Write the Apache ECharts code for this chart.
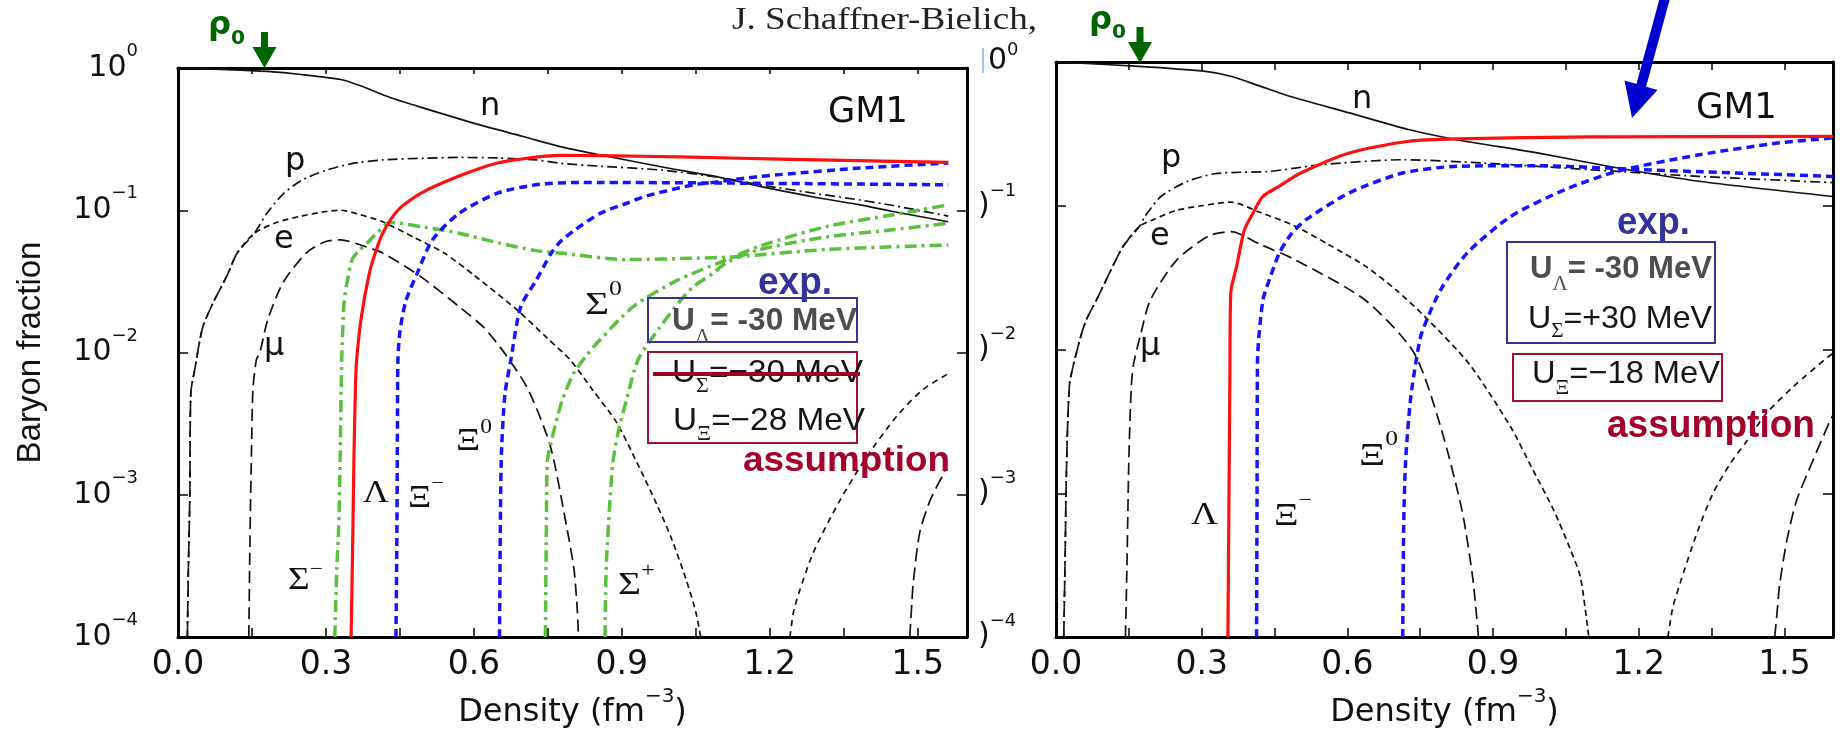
<!DOCTYPE html>
<html>
<head>
<meta charset="utf-8">
<script src="https://cdn.jsdelivr.net/npm/echarts/dist/echarts.min.js"></script>
<style>
html,body{margin:0;padding:0;background:#ffffff;overflow:hidden;}
#chart{width:1843px;height:729px;}
</style>
</head>
<body>
<div id="chart"></div>
<script>
// ---------------- axis data ----------------
const X_MIN = 0, X_MAX = 1.6, X_STEP = 0.15;
const X_TICK_LABELS = ['0.0', '0.3', '0.6', '0.9', '1.2', '1.5'];
const Y_TICK_EXP = [0, -1, -2, -3, -4];
const Y_MIN = 1e-4, Y_MAX = 1;

// ---------------- left panel (U_Sigma = -30 MeV) ----------------
const L_n = [[0,1.0],[0.1,0.975],[0.18,0.946],[0.25,0.9],[0.33,0.83],[0.37,0.75],[0.43,0.62],[0.5,0.52],[0.61,0.40],[0.7,0.33],[0.775,0.28],[0.856,0.245],[0.977,0.203],[1.1,0.17],[1.18,0.147],[1.3,0.122],[1.383,0.109],[1.45,0.098],[1.562,0.083]];
const L_p = [[0.019,1e-4],[0.021,3e-4],[0.024,0.001],[0.026,0.0052],[0.034,0.0076],[0.05,0.015],[0.073,0.023],[0.1,0.035],[0.12,0.05],[0.155,0.069],[0.18,0.095],[0.213,0.13],[0.25,0.162],[0.298,0.19],[0.35,0.212],[0.415,0.226],[0.5,0.232],[0.57,0.235],[0.65,0.233],[0.726,0.226],[0.775,0.214],[0.856,0.204],[0.977,0.192],[1.1,0.17],[1.18,0.151],[1.3,0.13],[1.383,0.118],[1.45,0.108],[1.562,0.091]];
const L_e = [[0.019,1e-4],[0.021,3e-4],[0.024,0.001],[0.026,0.0052],[0.034,0.0076],[0.05,0.015],[0.073,0.023],[0.1,0.035],[0.12,0.05],[0.155,0.069],[0.2,0.082],[0.25,0.091],[0.3,0.098],[0.33,0.1],[0.37,0.093],[0.415,0.083],[0.48,0.064],[0.54,0.05],[0.6,0.035],[0.687,0.02],[0.75,0.0125],[0.795,0.0089],[0.84,0.0055],[0.89,0.0032],[0.93,0.0017],[0.97,0.00087],[1.0,0.0005],[1.031,0.00025],[1.05,0.00015],[1.06,1e-4]];
const L_mu = [[0.1436,1e-4],[0.146,0.0005],[0.149,0.002],[0.152,0.0055],[0.159,0.0089],[0.166,0.01],[0.182,0.017],[0.213,0.031],[0.26,0.05],[0.298,0.06],[0.33,0.062],[0.37,0.057],[0.415,0.05],[0.493,0.034],[0.57,0.021],[0.62,0.015],[0.666,0.0095],[0.71,0.0055],[0.755,0.0022],[0.788,0.0006],[0.803,0.0003],[0.81,0.00015],[0.812,1e-4]];
const L_lepA = [[1.241,1e-4],[1.25,0.00016],[1.288,0.00039],[1.342,0.00091],[1.397,0.00186],[1.457,0.00355],[1.511,0.0055],[1.562,0.0071]];
const L_lepB = [[1.484,1e-4],[1.488,0.00017],[1.491,0.00024],[1.504,0.00054],[1.525,0.00091],[1.552,0.0014],[1.556,0.0015]];
const L_Lambda = [[0.351,1e-4],[0.354,0.0004],[0.357,0.002],[0.36,0.006],[0.363,0.0095],[0.372,0.018],[0.388,0.036],[0.4,0.05],[0.415,0.069],[0.446,0.1],[0.493,0.132],[0.57,0.174],[0.648,0.215],[0.726,0.236],[0.775,0.243],[0.856,0.242],[1.018,0.237],[1.22,0.229],[1.562,0.217]];
const L_XiM = [[0.442,1e-4],[0.444,0.0006],[0.445,0.003],[0.446,0.0089],[0.45,0.014],[0.462,0.023],[0.485,0.036],[0.516,0.062],[0.57,0.095],[0.648,0.132],[0.726,0.151],[0.815,0.157],[1.153,0.155],[1.562,0.151]];
const L_Xi0 = [[0.652,1e-4],[0.654,0.0008],[0.656,0.002],[0.663,0.0051],[0.675,0.0089],[0.695,0.021],[0.726,0.032],[0.757,0.05],[0.775,0.06],[0.803,0.072],[0.856,0.095],[0.91,0.112],[0.95,0.126],[1.045,0.151],[1.085,0.157],[1.18,0.173],[1.22,0.178],[1.383,0.198],[1.562,0.215]];
const L_SigM = [[0.318,1e-4],[0.322,0.0003],[0.326,0.0006],[0.329,0.002],[0.332,0.0089],[0.337,0.023],[0.345,0.034],[0.353,0.045],[0.367,0.052],[0.384,0.059],[0.405,0.07],[0.43,0.082],[0.5,0.076],[0.57,0.069],[0.65,0.059],[0.726,0.052],[0.775,0.05],[0.91,0.045],[1.045,0.046],[1.125,0.047],[1.316,0.053],[1.562,0.057]];
const L_Sig0 = [[0.745,1e-4],[0.747,0.0006],[0.749,0.0017],[0.756,0.0023],[0.771,0.0037],[0.78,0.0047],[0.802,0.0071],[0.83,0.0097],[0.856,0.0123],[0.923,0.021],[1.011,0.032],[1.113,0.045],[1.18,0.056],[1.316,0.077],[1.45,0.093],[1.562,0.109]];
const L_SigP = [[0.866,1e-4],[0.867,0.0002],[0.869,0.00035],[0.875,0.0008],[0.882,0.0017],[0.895,0.003],[0.91,0.0047],[0.933,0.0089],[0.977,0.015],[1.018,0.023],[1.045,0.029],[1.085,0.036],[1.113,0.043],[1.18,0.053],[1.316,0.065],[1.45,0.073],[1.562,0.081]];

// ---------------- right panel (U_Sigma = +30 MeV) ----------------
const R_n = [[0,1.0],[0.172,0.933],[0.304,0.863],[0.36,0.796],[0.42,0.68],[0.481,0.578],[0.604,0.443],[0.726,0.339],[0.825,0.288],[0.991,0.233],[1.157,0.183],[1.324,0.148],[1.6,0.116]];
const R_p = [[0.016,1e-4],[0.019,0.0004],[0.021,0.0012],[0.024,0.003],[0.028,0.0058],[0.035,0.0076],[0.05,0.012],[0.062,0.016],[0.083,0.022],[0.11,0.034],[0.138,0.052],[0.172,0.072],[0.183,0.084],[0.216,0.116],[0.271,0.148],[0.327,0.167],[0.382,0.171],[0.437,0.173],[0.548,0.193],[0.714,0.209],[0.881,0.198],[1.102,0.178],[1.324,0.16],[1.6,0.145]];
const R_e = [[0.016,1e-4],[0.019,0.0004],[0.021,0.0012],[0.024,0.003],[0.028,0.0058],[0.035,0.0076],[0.05,0.012],[0.062,0.016],[0.083,0.022],[0.11,0.034],[0.138,0.052],[0.172,0.072],[0.2,0.08],[0.248,0.093],[0.3,0.1],[0.36,0.106],[0.42,0.09],[0.493,0.072],[0.56,0.054],[0.637,0.038],[0.7,0.026],[0.759,0.017],[0.85,0.008],[0.936,0.0029],[0.98,0.0015],[1.025,0.00076],[1.06,0.0004],[1.08,0.00026],[1.097,1e-4]];
const R_mu = [[0.143,1e-4],[0.146,0.0003],[0.15,0.0017],[0.155,0.0055],[0.16,0.008],[0.175,0.013],[0.194,0.022],[0.249,0.042],[0.316,0.062],[0.36,0.066],[0.42,0.054],[0.493,0.042],[0.637,0.022],[0.737,0.0095],[0.792,0.0029],[0.836,0.00076],[0.858,0.00026],[0.87,1e-4]];
const R_lepA = [[1.26,1e-4],[1.27,0.00016],[1.284,0.00023],[1.319,0.00052],[1.353,0.001],[1.388,0.0016],[1.422,0.0023],[1.463,0.0036],[1.518,0.0055],[1.59,0.0089],[1.6,0.0094]];
const R_lepB = [[1.48,1e-4],[1.485,0.00015],[1.49,0.00023],[1.505,0.00047],[1.525,0.00089],[1.559,0.0017],[1.594,0.0032],[1.6,0.0035]];
const R_Lambda = [[0.354,1e-4],[0.356,0.0008],[0.358,0.006],[0.36,0.025],[0.372,0.038],[0.388,0.068],[0.405,0.088],[0.426,0.116],[0.46,0.137],[0.504,0.169],[0.604,0.233],[0.726,0.281],[0.825,0.292],[1.102,0.301],[1.6,0.304]];
const R_XiM = [[0.413,1e-4],[0.414,0.001],[0.415,0.0085],[0.426,0.022],[0.44,0.031],[0.46,0.047],[0.485,0.064],[0.515,0.08],[0.604,0.123],[0.714,0.169],[0.825,0.188],[0.991,0.19],[1.212,0.178],[1.6,0.16]];
const R_Xi0 = [[0.714,1e-4],[0.716,0.0006],[0.72,0.0017],[0.73,0.0045],[0.742,0.0085],[0.753,0.013],[0.792,0.026],[0.847,0.047],[0.936,0.084],[1.047,0.129],[1.157,0.174],[1.324,0.226],[1.49,0.274],[1.6,0.296]];

// ---------------- helpers ----------------
const DJ = '"DejaVu Sans"', LS = '"Liberation Sans"', SER = '"Liberation Serif"';
const mctx = document.createElement('canvas').getContext('2d');
function W(t, f) { mctx.font = f; return mctx.measureText(t).width; }
function seq(x, mid, parts, target) {
  let total = 0;
  parts.forEach(p => { p.w = W(p.t, p.f); total += p.w; });
  const sx = target ? target / total : 1;
  const out = []; let cx = x;
  parts.forEach(p => {
    out.push({ type: 'text', x: cx, y: (p.y !== undefined ? p.y : mid), scaleX: sx, z: 100, silent: true,
      style: { x: 0, y: 0, text: p.t, font: p.f, fill: p.c || '#111', align: 'left', verticalAlign: 'middle' } });
    cx += p.w * sx;
  });
  return out;
}
function fmtX(v) {
  for (const s of X_TICK_LABELS) { if (Math.abs(parseFloat(s) - v) < 1e-6) return s; }
  return '';
}
function fmtY(v) {
  const e = Math.round(Math.log10(v));
  if (!Y_TICK_EXP.includes(e)) return '';
  return '{b|10}{s|' + (e === 0 ? '0' : '\u2212' + (-e)) + '}';
}
function xAx(gi, pos, labels, tickLen) {
  return { type: 'value', gridIndex: gi, position: pos, min: X_MIN, max: X_MAX, interval: X_STEP,
    axisLine: { show: true, onZero: false, lineStyle: { color: '#000', width: 3 } },
    axisTick: { show: true, inside: true, length: tickLen, lineStyle: { color: '#000', width: 1.5 } },
    axisLabel: { show: labels, margin: 12, fontSize: 33, fontFamily: DJ, color: '#111', formatter: fmtX },
    splitLine: { show: false },
    name: labels ? '{a|Density (fm}{s|\u22123}{a|)}' : '', nameLocation: 'middle', nameGap: 48,
    nameTextStyle: { rich: {
      a: { fontSize: 32, fontFamily: DJ, color: '#111', lineHeight: 51 },
      s: { fontSize: 20, fontFamily: DJ, color: '#111', lineHeight: 20, verticalAlign: 'top' } } } };
}
function yAx(gi, pos, labels, withName) {
  return { type: 'log', logBase: 10, gridIndex: gi, position: pos, min: Y_MIN, max: Y_MAX,
    axisLine: { show: true, onZero: false, lineStyle: { color: '#000', width: 3 } },
    axisTick: { show: true, inside: true, length: 10, lineStyle: { color: '#000', width: 1.5 } },
    minorTick: { show: false }, splitLine: { show: false }, minorSplitLine: { show: false },
    axisLabel: { show: labels, margin: 40, formatter: fmtY, rich: {
      b: { fontSize: 30, fontFamily: DJ, color: '#111', lineHeight: 51 },
      s: { fontSize: 18, fontFamily: DJ, color: '#111', lineHeight: 18, verticalAlign: 'top' } } },
    name: withName ? 'Baryon fraction' : '', nameLocation: 'middle', nameGap: 131, nameRotate: 90,
    nameTextStyle: { fontSize: 33, fontFamily: LS, color: '#111' } };
}
function ln(data, xi, yi, color, width, dash, z) {
  return { type: 'line', xAxisIndex: xi, yAxisIndex: yi, data: data, symbol: 'none', showSymbol: false,
    smooth: 0.25, silent: true, z: z || 2, animation: false,
    lineStyle: { color: color, width: width, type: dash || 'solid', cap: 'butt', join: 'round' } };
}

const BLK = '#111', RED = '#ff1010', BLUE = '#1414ff', GRN = '#5cbf3f';
const D_P = [10, 4, 2, 4], D_E = [6, 4], D_MU = [12, 6], D_LA = [6, 5], D_LB = [13, 6];
const D_XI = [8, 5], D_SIG = [12, 5, 3, 5];

function panelSeries(xi, yi, d) {
  return [
    ln(d.n, xi, yi, BLK, 1.7, 'solid'),
    ln(d.p, xi, yi, BLK, 1.7, D_P),
    ln(d.e, xi, yi, BLK, 1.7, D_E),
    ln(d.mu, xi, yi, BLK, 1.7, D_MU),
    ln(d.lepA, xi, yi, BLK, 1.7, D_LA),
    ln(d.lepB, xi, yi, BLK, 1.7, D_LB)
  ].concat((d.sig || []).map(s => ln(s, xi, yi, GRN, 3.5, D_SIG, 3)))
   .concat([ln(d.xim, xi, yi, BLUE, 3.5, D_XI, 4), ln(d.xi0, xi, yi, BLUE, 3.5, D_XI, 4),
            ln(d.lam, xi, yi, RED, 3.2, 'solid', 5)]);
}

const series = panelSeries(0, 0, { n: L_n, p: L_p, e: L_e, mu: L_mu, lepA: L_lepA, lepB: L_lepB,
  sig: [L_SigM, L_Sig0, L_SigP], xim: L_XiM, xi0: L_Xi0, lam: L_Lambda })
  .concat(panelSeries(2, 2, { n: R_n, p: R_p, e: R_e, mu: R_mu, lepA: R_lepA, lepB: R_lepB,
  sig: [], xim: R_XiM, xi0: R_Xi0, lam: R_Lambda }));

// ---------------- annotations ----------------
const G = '#006400', GRAY = '#4d4d4d', DK = '#151515', EXPC = '#333399', ASC = '#a3002b';
const B31 = 'bold 31px ' + LS, R32 = '32px ' + LS, SUBS = '21px ' + SER;
const S32 = '32px ' + SER, S20 = '20px ' + SER, L32 = '32px ' + DJ;
let gr = [];
gr = gr.concat(seq(732, 21, [{ t: 'J. Schaffner-Bielich,', f: S32, c: '#222' }], 305));
gr = gr.concat(seq(208, 26, [{ t: '\u03c1', f: 'bold 32px ' + DJ, c: G }, { t: '0', f: 'bold 20px ' + DJ, c: G, y: 38.5 }], 37));
gr = gr.concat(seq(1089, 21, [{ t: '\u03c1', f: 'bold 32px ' + DJ, c: G }, { t: '0', f: 'bold 20px ' + DJ, c: G, y: 33 }], 37));
[[264.5, 32, 47, 68], [1140, 27, 42, 63]].forEach(a => {
  gr.push({ type: 'rect', z: 100, silent: true, shape: { x: a[0] - 3.5, y: a[1], width: 7, height: a[2] - a[1] + 2 }, style: { fill: G } });
  gr.push({ type: 'polygon', z: 100, silent: true, shape: { points: [[a[0] - 12, a[2]], [a[0] + 12, a[2]], [a[0], a[3]]] }, style: { fill: G } });
});
gr.push({ type: 'line', z: 100, silent: true, shape: { x1: 1666, y1: -6, x2: 1640, y2: 90 }, style: { stroke: '#0000cc', lineWidth: 10 } });
gr.push({ type: 'polygon', z: 100, silent: true, shape: { points: [[1632, 118], [1624.5, 80.5], [1657.5, 90]] }, style: { fill: '#0000cc' } });
gr = gr.concat(seq(828, 113, [{ t: 'GM1', f: '35px ' + DJ, c: '#111' }], 80));
gr = gr.concat(seq(1696, 108.5, [{ t: 'GM1', f: '35px ' + DJ, c: '#111' }], 81));
[['n', 480, 106.5], ['p', 285, 161.5], ['e', 274, 239.5], ['\u03bc', 264, 346.5],
 ['n', 1352, 100], ['p', 1161, 158.5], ['e', 1150, 236.5], ['\u03bc', 1140, 346.5]].forEach(l => {
  gr = gr.concat(seq(l[1], l[2], [{ t: l[0], f: L32, c: '#111' }]));
});
gr = gr.concat(seq(288, 581, [{ t: '\u03a3', f: S32 }, { t: '\u2212', f: S20, y: 569.5 }], 35));
gr = gr.concat(seq(363, 494, [{ t: '\u039b', f: S32 }], 26));
gr = gr.concat(seq(408, 499, [{ t: '\u039e', f: S32 }, { t: '\u2212', f: S20, y: 483.5 }], 36));
gr = gr.concat(seq(456, 442, [{ t: '\u039e', f: S32 }, { t: '0', f: S20, y: 427.5 }], 36));
gr = gr.concat(seq(585, 306, [{ t: '\u03a3', f: S32 }, { t: '0', f: S20, y: 290 }], 37));
gr = gr.concat(seq(618, 586, [{ t: '\u03a3', f: S32 }, { t: '+', f: S20, y: 572 }], 37));
gr = gr.concat(seq(1191, 516, [{ t: '\u039b', f: S32 }], 27));
gr = gr.concat(seq(1274, 517, [{ t: '\u039e', f: S32 }, { t: '\u2212', f: S20, y: 501 }], 38));
gr = gr.concat(seq(1359, 457, [{ t: '\u039e', f: S32 }, { t: '0', f: S20, y: 440 }], 39));
function box(x, y, w, h, c) { return { type: 'rect', z: 99, silent: true, shape: { x: x, y: y, width: w, height: h }, style: { fill: 'none', stroke: c, lineWidth: 2 } }; }
gr.push(box(648, 298, 209, 44, '#33339a'), box(648, 352, 209, 91, '#a0102c'),
        box(1507, 242, 208, 101, '#33339a'), box(1513, 354, 209, 47, '#a0102c'));
gr = gr.concat(seq(758, 284, [{ t: 'exp.', f: 'bold 38px ' + LS, c: EXPC }], 74));
gr = gr.concat(seq(672, 321.3, [{ t: 'U', f: B31, c: GRAY }, { t: '\u039b', f: SUBS, c: GRAY, y: 337 }, { t: '= -30 MeV', f: B31, c: GRAY }], 185));
gr = gr.concat(seq(672, 373, [{ t: 'U', f: R32, c: DK }, { t: '\u03a3', f: SUBS, c: DK, y: 386 }, { t: '=\u221230 MeV', f: R32, c: DK }], 191));
gr = gr.concat(seq(673, 421, [{ t: 'U', f: R32, c: DK }, { t: '\u039e', f: SUBS, c: DK, y: 434 }, { t: '=\u221228 MeV', f: R32, c: DK }], 192));
gr.push({ type: 'line', z: 101, silent: true, shape: { x1: 653, y1: 374, x2: 860, y2: 374 }, style: { stroke: '#990022', lineWidth: 4 } });
gr = gr.concat(seq(743, 461.5, [{ t: 'assumption', f: 'bold 35px ' + LS, c: ASC }], 207));
gr = gr.concat(seq(1617, 224, [{ t: 'exp.', f: 'bold 38px ' + LS, c: EXPC }], 73));
gr = gr.concat(seq(1530, 269.3, [{ t: 'U', f: B31, c: GRAY }, { t: '\u039b', f: SUBS, c: GRAY, y: 284 }, { t: '= -30 MeV', f: B31, c: GRAY }], 182));
gr = gr.concat(seq(1528, 319, [{ t: 'U', f: R32, c: DK }, { t: '\u03a3', f: SUBS, c: DK, y: 331 }, { t: '=+30 MeV', f: R32, c: DK }], 184));
gr = gr.concat(seq(1532, 374, [{ t: 'U', f: R32, c: DK }, { t: '\u039e', f: SUBS, c: DK, y: 388 }, { t: '=\u221218 MeV', f: R32, c: DK }], 188));
gr = gr.concat(seq(1607, 427, [{ t: 'assumption', f: 'bold 38px ' + LS, c: ASC }], 208));
gr = gr.concat(seq(988, 61, [{ t: '0', f: '30px ' + DJ, c: '#111' }, { t: '0', f: '18px ' + DJ, c: '#111', y: 50 }]));
gr.push({ type: 'line', z: 100, silent: true, shape: { x1: 983, y1: 48, x2: 983, y2: 73 }, style: { stroke: '#9cc6ee', lineWidth: 2 } });
[1, 2, 3, 4].forEach(k => {
  const yc = 62.5 + 143.5 * k;
  gr = gr.concat(seq(978, yc, [{ t: ')', f: '30px ' + DJ, c: '#111' }, { t: '\u2212' + k, f: '18px ' + DJ, c: '#111', y: yc - 15 }]));
});

const chart = echarts.init(document.getElementById('chart'), null, { renderer: 'canvas' });
chart.setOption({
  animation: false,
  backgroundColor: '#ffffff',
  grid: [
    { left: 178, top: 68, width: 789, height: 569, containLabel: false, outerBoundsMode: 'none' },
    { left: 1056, top: 62, width: 777, height: 575, containLabel: false, outerBoundsMode: 'none' }
  ],
  xAxis: [xAx(0, 'bottom', true, 9), xAx(0, 'top', false, 6), xAx(1, 'bottom', true, 9), xAx(1, 'top', false, 8)],
  yAxis: [yAx(0, 'left', true, true), yAx(0, 'right', false, false), yAx(1, 'left', false, false), yAx(1, 'right', false, false)],
  series: series,
  graphic: { elements: gr }
});
</script>
</body>
</html>
